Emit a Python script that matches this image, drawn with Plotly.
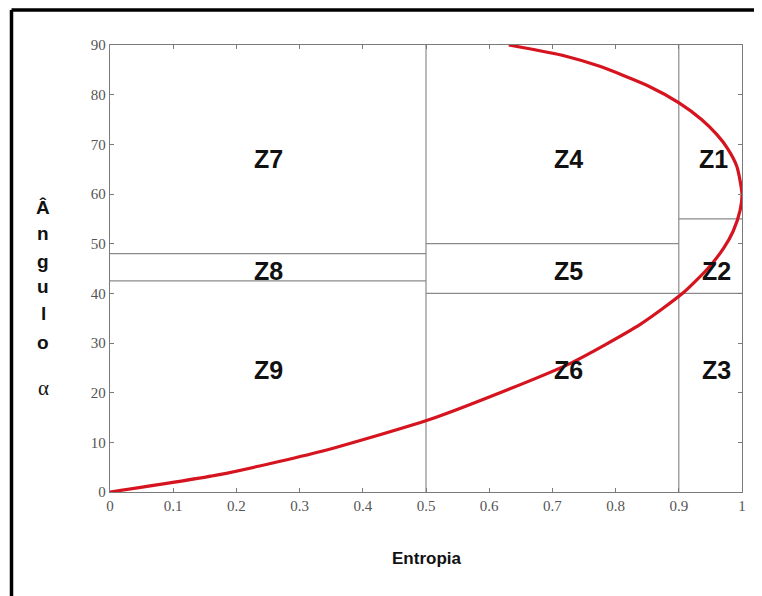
import plotly.graph_objects as go

# Boundary curve (entropy H, alpha in degrees)
curve_h = [0.631, 0.72, 0.775, 0.851, 0.901, 0.936, 0.960, 0.977, 0.992, 1.0,
           0.997, 0.986, 0.971, 0.946, 0.906, 0.839, 0.725, 0.515, 0.335, 0.173, 0.0]
curve_a = [90, 87.8, 85.7, 81.8, 78.3, 75, 72, 69.2, 65.5, 60,
           56.7, 52.5, 49.1, 45, 40, 33.75, 25.7, 15.0, 8.2, 3.5, 0]

# Zone boundaries: (x0, x1, y0, y1)
boundary_x0 = [0.5, 0.9, 0.0, 0.0, 0.5, 0.5, 0.9, 0.9]
boundary_x1 = [0.5, 0.9, 0.5, 0.5, 0.9, 0.9, 1.0, 1.0]
boundary_y0 = [0, 0, 48, 42.5, 50, 40, 55, 40]
boundary_y1 = [90, 90, 48, 42.5, 50, 40, 55, 40]

zone_names = ["Z7", "Z4", "Z1", "Z8", "Z5", "Z2", "Z9", "Z6", "Z3"]
zone_x = [0.25, 0.725, 0.955, 0.25, 0.725, 0.96, 0.25, 0.725, 0.96]
zone_y = [67, 67, 67, 44.5, 44.5, 44.5, 24.5, 24.5, 24.5]

ytitle_chars = ["Â", "n", "g", "u", "l", "o", "α"]
ytitle_py = [207, 234, 261, 286, 313, 342, 388]

x_ticks = [0, 0.1, 0.2, 0.3, 0.4, 0.5, 0.6, 0.7, 0.8, 0.9, 1]
y_ticks = [0, 10, 20, 30, 40, 50, 60, 70, 80, 90]

OFF = 8            # page body margin
FIG_W, FIG_H = 762 - OFF, 596 - OFF
L_PAGE, R_PAGE, T_PAGE, B_PAGE = 110, 742, 45, 492
W = R_PAGE - L_PAGE
H = B_PAGE - T_PAGE

def px_x(page_x):
    return (page_x - L_PAGE) / W

def px_y(page_y):
    return (B_PAGE - page_y) / H

fig = go.Figure()

for x0, x1, y0, y1 in zip(boundary_x0, boundary_x1, boundary_y0, boundary_y1):
    fig.add_shape(type="line", xref="x", yref="y", x0=x0, x1=x1, y0=y0, y1=y1,
                  line=dict(color="#8a8a8a", width=1.2), layer="below")

fig.add_trace(go.Scatter(x=curve_h, y=curve_a, mode="lines",
                         line=dict(color="#d5141f", width=3.2, shape="spline", smoothing=0.6),
                         hoverinfo="skip", showlegend=False, cliponaxis=False))

for name, zx, zy in zip(zone_names, zone_x, zone_y):
    fig.add_annotation(x=zx, y=zy, xref="x", yref="y", text="<b>%s</b>" % name,
                       showarrow=False, xanchor="center", yanchor="middle",
                       font=dict(family="Liberation Sans, Arial", size=25, color="#111"))

# y-axis title, stacked letters
for ch, py in zip(ytitle_chars, ytitle_py):
    if ch == "α":
        txt, fam, sz = ch, "Liberation Serif, Times New Roman", 21
    else:
        txt, fam, sz = "<b>%s</b>" % ch, "Liberation Sans, Arial", 19
    fig.add_annotation(x=px_x(43), y=px_y(py), xref="paper", yref="paper", text=txt,
                       showarrow=False, xanchor="center", yanchor="middle",
                       font=dict(family=fam, size=sz, color="#111"))

# x-axis title
fig.add_annotation(x=0.5, y=px_y(558), xref="paper", yref="paper",
                   text="<b>Entropia</b>", showarrow=False, xanchor="center", yanchor="middle",
                   font=dict(family="Liberation Sans, Arial", size=17, color="#111"))

# black frame (top and left edges)
fig.add_shape(type="line", xref="paper", yref="paper",
              x0=px_x(11.5), x1=px_x(800), y0=px_y(10), y1=px_y(10),
              line=dict(color="#000", width=3.5))
fig.add_shape(type="line", xref="paper", yref="paper",
              x0=px_x(11.5), x1=px_x(11.5), y0=px_y(10), y1=px_y(640),
              line=dict(color="#000", width=3.5))

axis_common = dict(showgrid=False, zeroline=False, showline=True, linecolor="#7a7a7a",
                   linewidth=1.3, mirror="ticks", ticks="inside", ticklen=4,
                   tickcolor="#7a7a7a",
                   tickfont=dict(family="Liberation Serif, Times New Roman", size=15, color="#555"))

fig.update_xaxes(range=[0, 1], tickvals=x_ticks, ticktext=[("%g" % v) for v in x_ticks], **axis_common)
fig.update_yaxes(range=[0, 90], tickvals=y_ticks, ticktext=[str(v) for v in y_ticks], **axis_common)

fig.update_layout(width=FIG_W, height=FIG_H,
                  margin=dict(l=L_PAGE - OFF, r=FIG_W - (R_PAGE - OFF),
                              t=T_PAGE - OFF, b=FIG_H - (B_PAGE - OFF)),
                  plot_bgcolor="white", paper_bgcolor="white", showlegend=False)

fig.write_html("out.html")
